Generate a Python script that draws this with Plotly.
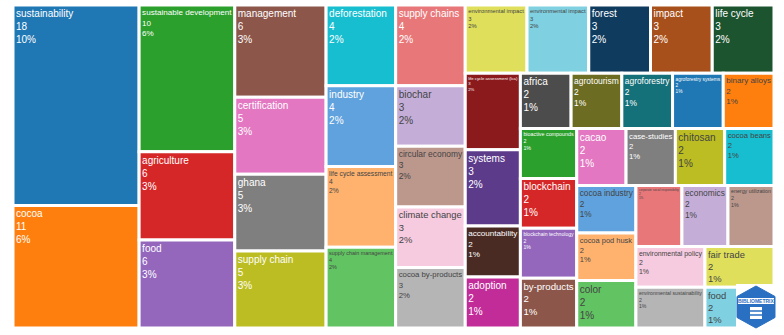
import plotly.graph_objects as go

labels = [
    "sustainability", "cocoa", "sustainable development", "agriculture", "food",
    "management", "certification", "ghana", "supply chain", "deforestation",
    "industry", "life cycle assessment", "supply chain management", "supply chains",
    "biochar", "circular economy", "climate change", "cocoa by-products",
    "environmental impact", "environmental impact", "forest", "impact", "life cycle",
    "life cycle assessment (lca)", "systems", "accountability", "adoption", "africa",
    "agrotourism", "agroforestry", "agroforestry systems", "binary alloys",
    "bioactive compounds", "blockchain", "blockchain technology", "by-products",
    "cacao", "case-studies", "chitosan", "cocoa beans", "cocoa industry",
    "cocoa pod husk", "color", "corporate social responsibility", "economics",
    "energy utilization", "environmental policy", "environmental sustainability",
    "fair trade", "food",
]
values = [
    18, 11, 10, 6, 6,
    6, 5, 5, 5, 4,
    4, 4, 4, 4,
    3, 3, 3, 3,
    3, 3, 3, 3, 3,
    3, 3, 2, 2, 2,
    2, 2, 2, 2,
    2, 2, 2, 2,
    2, 2, 2, 2, 2,
    2, 2, 2, 2,
    2, 2, 2,
    2, 2,
]

ids = [f"{i:02d}_{lab}" for i, lab in enumerate(labels)]

base = ['#1f77b4', '#ff7f0e', '#2ca02c', '#d62728', '#9467bd',
        '#8c564b', '#e377c2', '#7f7f7f', '#bcbd22', '#17becf']
light = ['#5fa2dd', '#ffb26e', '#62c362', '#e8777a', '#c4aed8',
         '#bc978c', '#f6cadf', '#b5b5b5', '#dfdf5c', '#7fd0e1']
dark = ['#0f3b5f', '#a7501b', '#1d5430', '#8b1a1d', '#5c3b8b',
        '#4a2b24', '#c22c99', '#4c4c4c', '#6c6c22', '#147079']
palette = base + light + dark
colors = [palette[i % len(palette)] for i in range(len(labels))]

dark_text = {11, 12, 14, 15, 16, 17, 18, 19, 31, 38, 39} | set(range(40, len(labels)))
text_colors = ["#444444" if i in dark_text else "#ffffff" for i in range(len(labels))]

fig = go.Figure(go.Treemap(
    ids=ids,
    labels=labels,
    parents=[""] * len(labels),
    values=values,
    sort=True,
    texttemplate="%{label}<br>%{value}<br>%{percentRoot:.0%}",
    textposition="top left",
    textfont=dict(family="Liberation Sans, Arial", size=10, color=text_colors),
    marker=dict(colors=colors, line=dict(color="white", width=3),
                pad=dict(t=0, l=0, r=0, b=0)),
    tiling=dict(packing="squarify", squarifyratio=1, pad=0),
    pathbar=dict(visible=False),
    hoverinfo="label+value+percent root",
))

W, H = 784, 335
L, R, T, B = 13, 10, 5, 7


def px(x):
    return (x - L) / (W - L - R)


def py(y):
    return 1 - (y - T) / (H - T - B)


cx, cy, rx, ry = 756, 307, 19, 21
hexpts = [(cx, cy - ry), (cx + rx, cy - ry / 2), (cx + rx, cy + ry / 2),
          (cx, cy + ry), (cx - rx, cy + ry / 2), (cx - rx, cy - ry / 2)]
path = "M " + " L ".join(f"{px(a):.5f},{py(b):.5f}" for a, b in hexpts) + " Z"

shapes = [
    dict(type="rect", xref="paper", yref="paper", layer="above",
         x0=px(736), x1=px(777), y0=py(330), y1=py(284),
         fillcolor="white", line=dict(width=0)),
    dict(type="path", xref="paper", yref="paper", layer="above", path=path,
         fillcolor="#2a70c2", line=dict(color="#2a70c2", width=1)),
    dict(type="rect", xref="paper", yref="paper", layer="above",
         x0=px(738), x1=px(774), y0=py(304), y1=py(298),
         fillcolor="white", line=dict(width=0)),
    dict(type="rect", xref="paper", yref="paper", layer="above",
         x0=px(750), x1=px(762), y0=py(319), y1=py(307),
         fillcolor="white", line=dict(width=0)),
    dict(type="line", xref="paper", yref="paper", layer="above",
         x0=px(750), x1=px(762), y0=py(311), y1=py(311),
         line=dict(color="#2a70c2", width=1.5)),
    dict(type="line", xref="paper", yref="paper", layer="above",
         x0=px(750), x1=px(762), y0=py(315), y1=py(315),
         line=dict(color="#2a70c2", width=1.5)),
]

fig.update_layout(
    width=W, height=H,
    margin=dict(l=L, r=R, t=T, b=B),
    paper_bgcolor="white",
    shapes=shapes,
    annotations=[dict(xref="paper", yref="paper", x=px(756), y=py(301),
                      text="<b>BIBLIOMETRIX</b>", showarrow=False,
                      font=dict(family="Liberation Sans, Arial", size=5, color="#2a70c2"),
                      xanchor="center", yanchor="middle")],
)

fig.write_html("out.html")
